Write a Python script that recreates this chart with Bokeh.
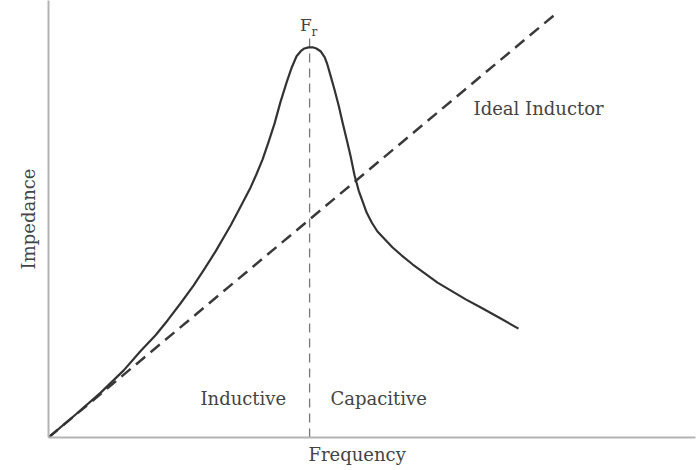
from bokeh.plotting import figure
from bokeh.models import Range1d, Label, FixedTicker, Title
from bokeh.embed import file_html
from bokeh.resources import INLINE

freq = [0.00, 0.52, 1.00, 1.44, 1.76, 2.05, 2.28, 2.53, 2.78, 2.99, 3.20, 3.49,
        3.68, 3.87, 3.98, 4.10, 4.21, 4.33, 4.44, 4.56, 4.66, 4.75, 4.83, 4.90,
        4.98, 5.06, 5.13, 5.21, 5.29, 5.34, 5.40, 5.48, 5.56, 5.63, 5.71, 5.79,
        5.86, 5.94, 6.02, 6.09, 6.19, 6.30, 6.44, 6.59, 6.76, 6.97, 7.20, 7.45,
        7.70, 7.99, 8.28, 8.66, 9.00]
impedance = [0.00, 0.59, 1.15, 1.72, 2.21, 2.62, 3.00, 3.44, 3.90, 4.33, 4.77, 5.44,
             5.92, 6.41, 6.74, 7.13, 7.56, 8.05, 8.59, 9.10, 9.49, 9.77, 9.90, 9.97,
             10.00, 10.00, 9.97, 9.90, 9.74, 9.56, 9.28, 8.90, 8.49, 8.08, 7.64, 7.18,
             6.72, 6.33, 6.03, 5.77, 5.51, 5.28, 5.08, 4.87, 4.67, 4.44, 4.21, 3.97,
             3.77, 3.54, 3.33, 3.05, 2.79]

# Ideal inductor (straight line)
ideal_freq = [0.0, 9.75]
ideal_imp = [0.0, 10.90]

# Resonant frequency marker
fr = 5.0
fr_line_y = [0.0, 10.35]

TXT = "#444444"
FONT = "DejaVu Serif"

p = figure(width=699, height=470, output_backend="svg", toolbar_location=None,
           x_range=Range1d(0, 12.39), y_range=Range1d(0, 11.2),
           min_border_left=48, min_border_right=4, min_border_top=0,
           min_border_bottom=33)
p.xgrid.visible = False
p.ygrid.visible = False
p.outline_line_color = None
p.background_fill_color = "white"
p.border_fill_color = "white"

for ax in (p.xaxis[0], p.yaxis[0]):
    ax.ticker = FixedTicker(ticks=[])
    ax.major_tick_line_color = None
    ax.minor_tick_line_color = None
    ax.major_tick_out = 0
    ax.minor_tick_out = 0
    ax.major_label_standoff = 0
    ax.major_label_text_font_size = "0px"
    ax.axis_line_color = "#b3b3b3"
    ax.axis_line_width = 2

p.yaxis[0].axis_label = "Impedance"
p.yaxis[0].axis_label_text_font = FONT
p.yaxis[0].axis_label_text_font_size = "18px"
p.yaxis[0].axis_label_text_font_style = "normal"
p.yaxis[0].axis_label_text_color = TXT
p.yaxis[0].axis_label_standoff = 10

p.xaxis[0].axis_label_standoff = 0

p.add_layout(Title(text="Frequency", align="left", offset=260, standoff=9,
                   text_font=FONT, text_font_size="18px", text_font_style="normal",
                   text_color=TXT), "below")

# vertical resonance line
p.line([fr, fr], fr_line_y, line_color="#777777", line_width=1.3, line_dash="9 6")
# ideal inductor
p.line(ideal_freq, ideal_imp, line_color="#3a3a3a", line_width=2.5, line_dash="12 7")
# real inductor
p.line(freq, impedance, line_color="#333333", line_width=2.2, line_join="round")

def lab(text, x, y, size="18px", align="left"):
    p.add_layout(Label(x=x, y=y, text=text, text_font=FONT, text_font_size=size,
                       text_color=TXT, text_align=align, text_baseline="alphabetic"))

lab("F", 4.93, 10.56, size="17px", align="center")
lab("r", 5.09, 10.38, size="12px", align="center")
lab("Ideal Inductor", 8.14, 8.44)
lab("Inductive", 2.91, 1.0)
lab("Capacitive", 5.40, 1.0)

open("out.html", "w").write(file_html(p, INLINE))
